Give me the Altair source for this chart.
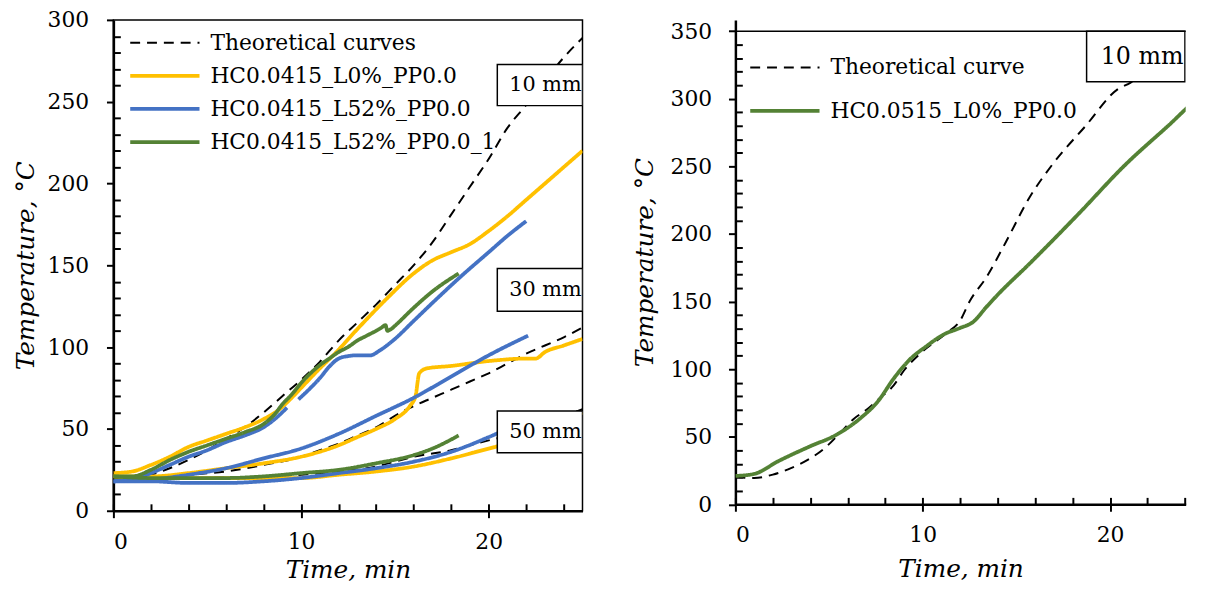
import altair as alt
import pandas as pd

# ---------------- Left panel data ----------------
L_NAMES = ["Theoretical curves", "HC0.0415_L0%_PP0.0", "HC0.0415_L52%_PP0.0", "HC0.0415_L52%_PP0.0_1"]
L_COLORS = ["#000000", "#FFC000", "#4472C4", "#548235"]

theo10_t = [0, 1, 2, 3, 4, 5, 6, 7, 8, 9, 10, 11, 12, 13, 14, 15, 16, 17, 18, 19, 20, 21, 22, 23, 24, 25]
theo10_v = [20, 20, 22, 26, 31, 37, 44, 51, 60, 70, 80, 91, 104, 115, 126, 138, 150, 164, 181, 198, 215, 234, 248, 263, 277, 289]
theo30_t = [0, 2, 4, 6, 8, 10, 11, 12, 13, 14, 15, 16, 17, 18, 19, 20, 21, 22, 23, 24, 25]
theo30_v = [20, 20, 22, 24, 28, 33, 37, 41, 46, 51, 58, 64, 69, 74, 79, 84, 90, 96, 101, 106, 112]
theo50_t = [0, 4, 8, 10, 12, 14, 15, 16, 18, 19, 20, 21, 22, 23, 24, 25]
theo50_v = [20, 20, 21, 22, 24, 27, 30, 33, 37, 40, 43, 46, 50, 54, 58, 62]

gold10_t = [0, 1, 2, 3, 4, 5, 6, 7, 8, 8.85, 9.5, 10, 11, 11.8, 13, 14.6, 16, 17, 18, 19, 20, 21, 22, 23, 24, 25]
gold10_v = [23, 24, 28, 33, 39, 43, 47, 51, 56, 62, 69, 75, 87, 96, 111, 130, 145, 153, 158, 163, 171, 180, 190, 200, 210, 220]
gold30_t = [0, 2, 4, 6, 8, 10, 12, 13, 14, 15, 15.8, 16.1, 16.3, 16.7, 18, 20, 22, 22.5, 23, 24, 25]
gold30_v = [21, 21, 23, 26, 29, 33, 40, 45, 50, 56, 64, 70, 84, 87, 88.5, 91.5, 93, 93, 97, 101, 105]
gold50_t = [0, 2, 4, 6, 8, 10, 12, 14, 16, 18, 20, 21, 22, 23, 24, 25]
gold50_v = [21, 20, 20, 20, 20, 20, 22, 24, 27, 32, 38, 41, 44, 49, 54, 60]

blue10a_t = [0, 1, 2, 3, 4, 5, 6, 7, 8, 8.6, 9.25]
blue10a_v = [18, 19, 23, 28, 33, 37, 42, 46, 51, 56, 63]
blue10b_t = [9.86, 10.5, 11, 11.5, 12, 12.5, 13, 13.7, 14.2, 15, 16, 17, 18.5, 20, 21, 22]
blue10b_v = [68, 75, 81, 88, 93, 94.5, 95, 95, 98, 105, 116, 127, 143, 158, 168, 177]
blue30_t = [0, 2, 4, 6, 8, 10, 12, 14, 16, 18, 20, 22.1]
blue30_v = [18, 19, 22, 26, 32, 38, 47, 58, 69, 82, 95, 107]
blue50_t = [0, 2, 4, 6, 8, 10, 12, 14, 16, 18, 20, 21, 22.1]
blue50_v = [18, 18, 17, 17, 18, 20, 23, 26, 30, 36, 45, 50, 55]

green10_t = [0, 1, 2, 3, 4, 5, 6, 7, 8, 8.6, 9, 9.5, 10, 10.5, 11, 11.5, 12, 12.5, 13, 13.5, 14, 14.3, 14.5, 14.6, 14.8, 15, 16, 17, 18.4]
green10_v = [21, 21, 25, 31, 36, 40, 44, 48, 53, 59, 65, 71, 78, 84, 89, 93, 97, 100, 104, 107, 110, 112, 113.5, 110, 111, 113, 124, 134, 145]
green50_t = [0, 2, 4, 6, 8, 10, 12, 14, 16, 17, 18.4]
green50_v = [21, 20, 20, 20, 21, 23, 25, 29, 34, 38, 46]

# annotation boxes
L_BOX_LABELS = ["10 mm", "30 mm", "50 mm"]
L_BOX_T0 = [20.46, 20.46, 20.46]
L_BOX_T1 = [25, 25, 25]
L_BOX_V0 = [247.6, 122, 35.5]
L_BOX_V1 = [272.8, 148, 61]
L_TXT_T = [21.1, 21.1, 21.1]
L_TXT_V = [260, 135, 48]

# ---------------- Right panel data ----------------
R_NAMES = ["Theoretical curve", "HC0.0515_L0%_PP0.0"]
R_COLORS = ["#000000", "#548235"]
theoR_t = [0, 1, 2, 3, 4, 4.8, 5.6, 6.3, 7, 7.7, 8.45, 9, 9.9, 11.2, 12, 12.5, 13.4, 14.4, 15.7, 16.9, 18.7, 20.4, 21.1, 22, 23]
theoR_v = [20, 19.5, 22, 27, 34, 42, 53, 63, 70, 78.5, 88, 99, 112, 126, 136, 150, 168, 193, 227, 251, 280, 307, 312, 322, 333]
greenR_t = [0, 1, 2.3, 4, 5.4, 6.7, 7.6, 8.45, 9.3, 10.2, 11.1, 12, 12.7, 13.4, 14, 15.7, 18.3, 20.8, 23.1, 24.6, 25]
greenR_v = [21, 22.5, 32, 43, 51.5, 64, 76, 93, 107, 117, 125.5, 130.5, 135, 146, 155, 178, 214.6, 251, 280, 299, 303]
R_BOX_LABELS = ["10 mm"]
R_BOX_T0 = [18.75]
R_BOX_T1 = [24.0]
R_BOX_V0 = [312.6]
R_BOX_V1 = [350]
R_TXT_T = [19.5]
R_TXT_V = [331]

FONT = "DejaVu Serif"


def seg(series, sid, ts, vs):
    return pd.DataFrame({"t": ts, "T": vs, "series": series, "seg": sid})


left_df = pd.concat([
    seg(L_NAMES[0], "th10", theo10_t, theo10_v),
    seg(L_NAMES[0], "th30", theo30_t, theo30_v),
    seg(L_NAMES[0], "th50", theo50_t, theo50_v),
    seg(L_NAMES[1], "g10", gold10_t, gold10_v),
    seg(L_NAMES[1], "g30", gold30_t, gold30_v),
    seg(L_NAMES[1], "g50", gold50_t, gold50_v),
    seg(L_NAMES[2], "b10a", blue10a_t, blue10a_v),
    seg(L_NAMES[2], "b10b", blue10b_t, blue10b_v),
    seg(L_NAMES[2], "b30", blue30_t, blue30_v),
    seg(L_NAMES[2], "b50", blue50_t, blue50_v),
    seg(L_NAMES[3], "gr10", green10_t, green10_v),
    seg(L_NAMES[3], "gr50", green50_t, green50_v),
], ignore_index=True)

right_df = pd.concat([
    seg(R_NAMES[0], "thR", theoR_t, theoR_v),
    seg(R_NAMES[1], "grR", greenR_t, greenR_v),
], ignore_index=True)

left_box = pd.DataFrame({"label": L_BOX_LABELS, "t0": L_BOX_T0, "t1": L_BOX_T1,
                         "v0": L_BOX_V0, "v1": L_BOX_V1, "tt": L_TXT_T, "tv": L_TXT_V})
right_box = pd.DataFrame({"label": R_BOX_LABELS, "t0": R_BOX_T0, "t1": R_BOX_T1,
                          "v0": R_BOX_V0, "v1": R_BOX_V1, "tt": R_TXT_T, "tv": R_TXT_V})


def panel(df, box, names, colors, xmax, ymax, ydom, w, h, legx, legy, rowpad,
          x_title_pad, y_title_pad, y_label_pad, frame, box_font):
    dash = [[10, 7]] + [[1, 0]] * (len(names) - 1)
    widths = [2] + [3.8] * (len(names) - 1)
    leg = alt.Legend(orient="none", legendX=legx, legendY=legy, title=None,
                     symbolType="stroke", symbolSize=4900, clipHeight=24,
                     labelFont=FONT, labelFontSize=22, labelColor="black",
                     labelOffset=9, rowPadding=rowpad, padding=0, labelLimit=600)
    xscale = alt.Scale(domain=[0, xmax], nice=False, zero=False)
    yscale = alt.Scale(domain=[0, ydom], nice=False)
    major_y = list(range(0, ymax + 1, 50))
    minor_y = [v for v in range(10, ymax, 10) if v % 50 != 0]

    lines = alt.Chart(df).mark_line(interpolate="monotone", clip=True).encode(
        x=alt.X("t:Q", scale=xscale,
                axis=alt.Axis(values=[0, 10, 20], orient="bottom", title="Time, min",
                              tickSize=7, tickWidth=2, tickColor="black",
                              domainColor="black", domainWidth=2.5,
                              labelFont=FONT, labelFontSize=22, labelColor="black",
                              labelPadding=14, grid=False,
                              titleFont=FONT, titleFontSize=25, titleFontStyle="italic",
                              titleFontWeight="normal", titleColor="black",
                              titlePadding=x_title_pad)),
        y=alt.Y("T:Q", scale=yscale,
                axis=alt.Axis(values=major_y, orient="left", title="Temperature, °C",
                              tickSize=7, tickWidth=2, tickColor="black",
                              domainColor="black", domainWidth=2.5,
                              labelFont=FONT, labelFontSize=22, labelColor="black",
                              labelPadding=y_label_pad, grid=False,
                              titleFont=FONT, titleFontSize=25, titleFontStyle="italic",
                              titleFontWeight="normal", titleColor="black",
                              titlePadding=y_title_pad)),
        color=alt.Color("series:N", scale=alt.Scale(domain=names, range=colors), legend=leg),
        strokeDash=alt.StrokeDash("series:N", scale=alt.Scale(domain=names, range=dash), legend=leg),
        strokeWidth=alt.StrokeWidth("series:N",
                                    scale=alt.Scale(type="ordinal", domain=names, range=widths),
                                    legend=leg),
        detail="seg:N",
    )

    minor = alt.Chart(df).mark_point(opacity=0, size=0).encode(
        x=alt.X("t:Q", scale=xscale,
                axis=alt.Axis(values=list(range(0, int(xmax) + 1, 2)), orient="bottom",
                              offset=-7, tickSize=7, tickWidth=2, tickColor="black",
                              domain=False, labels=False, title=None, grid=False)),
        y=alt.Y("T:Q", scale=yscale,
                axis=alt.Axis(values=minor_y, orient="left",
                              offset=-7, tickSize=7, tickWidth=2, tickColor="black",
                              domain=False, labels=False, title=None, grid=False)),
    )

    rects = alt.Chart(box).mark_rect(fill="white", stroke="black", strokeWidth=1.5, clip=True).encode(
        x=alt.X("t0:Q", axis=None), x2="t1:Q",
        y=alt.Y("v0:Q", axis=None), y2="v1:Q")
    texts = alt.Chart(box).mark_text(align="left", baseline="middle", font=FONT,
                                     fontSize=box_font, color="black", clip=True).encode(
        x=alt.X("tt:Q", axis=None), y=alt.Y("tv:Q", axis=None), text="label:N")

    layers = [lines, minor, rects, texts]
    if not frame:
        top = alt.Chart(box).mark_rule(color="black", strokeWidth=1.5).encode(
            y=alt.Y(datum=ymax, axis=None))
        layers.append(top)

    ch = alt.layer(*layers).resolve_axis(x="independent", y="independent")
    if frame:
        ch = ch.properties(width=w, height=h,
                           view=alt.ViewBackground(stroke="black", strokeWidth=1.5))
    else:
        ch = ch.properties(width=w, height=h, view=alt.ViewBackground(stroke=None))
    return ch


left = panel(left_df, left_box, L_NAMES, L_COLORS, 25, 300, 300, 474, 496,
             15, 11, 9.5, 5, 9, 18, True, 21)
# right panel: y domain reaches a little above 350 so that its 350 line sits lower than the left top
right = panel(right_df, right_box, R_NAMES, R_COLORS, 24.04, 350, 358.4, 455, 489.5,
              13, 36, 20, 11, 12.7, 17, False, 24)

chart = alt.hconcat(left, right, spacing=49.5).resolve_scale(
    x="independent", y="independent", color="independent",
    strokeDash="independent", strokeWidth="independent"
).resolve_legend(color="independent", strokeDash="independent", strokeWidth="independent"
).properties(padding={"left": 4.5, "top": -3, "right": 0, "bottom": -2}
).configure(background="white")

chart.save("out.html", embed_options={"renderer": "svg", "actions": False})
